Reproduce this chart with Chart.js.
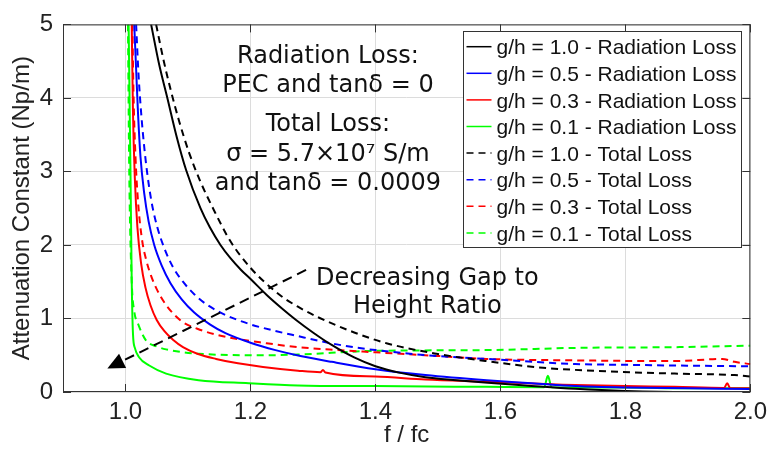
<!DOCTYPE html>
<html>
<head>
<meta charset="utf-8">
<script src="https://cdn.jsdelivr.net/npm/chart.js@4.4.0/dist/chart.umd.min.js"></script>
<style>
  body { margin: 0; background: #fff; }
  #wrap { width: 773px; height: 450px; }
</style>
</head>
<body>
<div id="wrap"><canvas id="chart" width="773" height="450"></canvas></div>
<script>
// values: f/fc on x, attenuation (Np/m) on y
const rad10X = [1.041, 1.054, 1.067, 1.082, 1.097, 1.120, 1.135, 1.152, 1.168, 1.185, 1.201, 1.226, 1.250, 1.273, 1.300, 1.330, 1.366, 1.400, 1.440, 1.480, 1.530, 1.580, 1.640, 1.720, 1.800, 1.900, 2.000];
const rad10Y = [5.00, 4.45, 4.00, 3.47, 3.02, 2.50, 2.24, 2.00, 1.82, 1.66, 1.53, 1.32, 1.14, 0.98, 0.81, 0.64, 0.47, 0.35, 0.26, 0.20, 0.16, 0.125, 0.09, 0.045, 0.015, 0.00, 0.00];

const rad05X = [1.014, 1.017, 1.020, 1.024, 1.030, 1.037, 1.046, 1.058, 1.072, 1.090, 1.110, 1.135, 1.160, 1.200, 1.240, 1.280, 1.330, 1.400, 1.480, 1.578, 1.650, 1.720, 1.800, 1.900, 2.000];
const rad05Y = [5.00, 4.40, 3.80, 3.20, 2.70, 2.32, 2.00, 1.72, 1.48, 1.26, 1.08, 0.92, 0.80, 0.67, 0.57, 0.49, 0.41, 0.31, 0.23, 0.16, 0.12, 0.08, 0.06, 0.05, 0.04];

const rad03X = [1.010, 1.012, 1.015, 1.019, 1.025, 1.032, 1.040, 1.050, 1.062, 1.076, 1.092, 1.115, 1.145, 1.180, 1.220, 1.276, 1.312, 1.316, 1.320, 1.400, 1.480, 1.578, 1.700, 1.800, 1.879, 1.958, 1.963, 1.968, 2.000];
const rad03Y = [5.00, 3.80, 2.90, 2.25, 1.75, 1.42, 1.18, 0.98, 0.83, 0.71, 0.61, 0.52, 0.45, 0.39, 0.34, 0.29, 0.27, 0.30, 0.265, 0.21, 0.17, 0.14, 0.10, 0.08, 0.07, 0.055, 0.12, 0.05, 0.05];

const rad01X = [1.005, 1.008, 1.010, 1.012, 1.015, 1.022, 1.038, 1.065, 1.117, 1.197, 1.276, 1.400, 1.578, 1.670, 1.676, 1.682, 1.800, 1.900, 2.000];
const rad01Y = [5.00, 3.00, 1.50, 0.79, 0.60, 0.47, 0.36, 0.25, 0.16, 0.12, 0.09, 0.08, 0.07, 0.065, 0.22, 0.065, 0.06, 0.05, 0.05];

const tot10X = [1.049, 1.060, 1.072, 1.086, 1.102, 1.120, 1.140, 1.168, 1.201, 1.247, 1.276, 1.310, 1.366, 1.419, 1.498, 1.578, 1.668, 1.774, 1.879, 1.975, 2.000];
const tot10Y = [5.00, 4.55, 4.12, 3.68, 3.25, 2.86, 2.50, 2.05, 1.68, 1.32, 1.16, 1.01, 0.81, 0.66, 0.52, 0.42, 0.33, 0.28, 0.25, 0.23, 0.21];

const tot05X = [1.017, 1.021, 1.026, 1.033, 1.041, 1.050, 1.062, 1.076, 1.092, 1.110, 1.130, 1.157, 1.200, 1.240, 1.276, 1.313, 1.350, 1.400, 1.498, 1.578, 1.720, 1.800, 1.879, 2.000];
const tot05Y = [5.00, 4.30, 3.70, 3.10, 2.62, 2.27, 1.96, 1.70, 1.50, 1.33, 1.19, 1.06, 0.92, 0.83, 0.76, 0.69, 0.63, 0.57, 0.49, 0.45, 0.38, 0.37, 0.36, 0.35];

const tot03X = [1.011, 1.013, 1.016, 1.020, 1.026, 1.033, 1.041, 1.050, 1.062, 1.076, 1.092, 1.115, 1.145, 1.180, 1.220, 1.276, 1.340, 1.400, 1.500, 1.578, 1.720, 1.879, 1.955, 1.975, 2.000];
const tot03Y = [5.00, 4.00, 3.20, 2.60, 2.10, 1.80, 1.58, 1.40, 1.22, 1.07, 0.95, 0.86, 0.78, 0.72, 0.67, 0.61, 0.57, 0.54, 0.49, 0.45, 0.43, 0.42, 0.45, 0.41, 0.38];

const tot01X = [1.004, 1.006, 1.010, 1.014, 1.020, 1.033, 1.050, 1.065, 1.117, 1.223, 1.276, 1.400, 1.578, 1.720, 1.879, 2.000];
const tot01Y = [5.00, 3.00, 1.50, 1.10, 0.93, 0.70, 0.62, 0.58, 0.52, 0.50, 0.51, 0.56, 0.57, 0.60, 0.61, 0.63];

const xTicks = [1.0, 1.2, 1.4, 1.6, 1.8, 2.0];
const yTicks = [0, 1, 2, 3, 4, 5];

const seriesLabels = [
    'g/h = 1.0 - Radiation Loss', 'g/h = 0.5 - Radiation Loss',
    'g/h = 0.3 - Radiation Loss', 'g/h = 0.1 - Radiation Loss',
    'g/h = 1.0 - Total Loss', 'g/h = 0.5 - Total Loss',
    'g/h = 0.3 - Total Loss', 'g/h = 0.1 - Total Loss',
];
const seriesX = [rad10X, rad05X, rad03X, rad01X, tot10X, tot05X, tot03X, tot01X];
const seriesY = [rad10Y, rad05Y, rad03Y, rad01Y, tot10Y, tot05Y, tot03Y, tot01Y];

const noteLines = ['Radiation Loss:', 'PEC and tan\u03b4 = 0', 'Total Loss:', '\u03c3 = 5.7\u00d710\u2077 S/m', 'and tan\u03b4 = 0.0009'];
const arrowNote = ['Decreasing Gap to', 'Height Ratio'];

const colors = ['#000000', '#0000ff', '#ff0000', '#00ff00'];
const DASH = [7, 5];

const datasets = seriesLabels.map((label, i) => ({
    label: label,
    data: seriesX[i].map((v, j) => ({ x: v, y: seriesY[i][j] })),
    borderColor: colors[i % 4],
    borderWidth: 2,
    borderDash: i >= 4 ? DASH : [],
    pointRadius: 0,
    cubicInterpolationMode: 'monotone',
    fill: false,
}));

// frame, inward ticks, text notes, arrow and legend
const overlay = {
    id: 'overlay',
    afterDatasetsDraw(chart) {
        const { ctx, chartArea: a, scales: { x, y } } = chart;
        ctx.save();

        ctx.strokeStyle = '#333';
        ctx.lineWidth = 1;
        ctx.strokeRect(a.left + 0.5, a.top + 0.5, a.right - a.left - 1, a.bottom - a.top - 1);
        ctx.beginPath();
        xTicks.forEach(v => {
            const px = Math.round(x.getPixelForValue(v)) + 0.5;
            ctx.moveTo(px, a.bottom); ctx.lineTo(px, a.bottom - 8);
            ctx.moveTo(px, a.top); ctx.lineTo(px, a.top + 8);
        });
        yTicks.forEach(v => {
            const py = Math.round(y.getPixelForValue(v)) + 0.5;
            ctx.moveTo(a.left, py); ctx.lineTo(a.left + 8, py);
            ctx.moveTo(a.right, py); ctx.lineTo(a.right - 8, py);
        });
        ctx.stroke();

        // notes
        ctx.fillStyle = '#111';
        ctx.font = '24px "DejaVu Sans"';
        ctx.textAlign = 'center';
        ctx.textBaseline = 'alphabetic';
        const noteX = x.getPixelForValue(1.324);
        const noteBase = [4.48, 4.08, 3.556, 3.146, 2.754];
        noteLines.forEach((t, i) => ctx.fillText(t, noteX, y.getPixelForValue(noteBase[i])));

        const arrX = x.getPixelForValue(1.483);
        ctx.fillText(arrowNote[0], arrX, y.getPixelForValue(1.46));
        ctx.fillText(arrowNote[1], arrX, y.getPixelForValue(1.07));

        // arrow
        const x0 = x.getPixelForValue(1.289), y0 = y.getPixelForValue(1.66);
        const x1 = x.getPixelForValue(0.971), y1 = y.getPixelForValue(0.32);
        const len = Math.hypot(x1 - x0, y1 - y0);
        const ux = (x1 - x0) / len, uy = (y1 - y0) / len;
        const head = 17, half = 8;
        const bx = x1 - ux * head, by = y1 - uy * head;
        ctx.strokeStyle = '#000';
        ctx.lineWidth = 2;
        ctx.setLineDash([10, 6]);
        ctx.beginPath();
        ctx.moveTo(x0, y0); ctx.lineTo(bx, by);
        ctx.stroke();
        ctx.setLineDash([]);
        ctx.fillStyle = '#000';
        ctx.beginPath();
        ctx.moveTo(x1, y1);
        ctx.lineTo(bx - uy * half, by + ux * half);
        ctx.lineTo(bx + uy * half, by - ux * half);
        ctx.closePath();
        ctx.fill();

        // legend
        const lx = 463.5, ly = 31.5, lw = 278, lh = 216;
        ctx.fillStyle = '#fff';
        ctx.fillRect(lx, ly, lw, lh);
        ctx.strokeStyle = '#333';
        ctx.lineWidth = 1;
        ctx.strokeRect(lx, ly, lw, lh);
        ctx.font = '21px "Liberation Sans", Arial';
        ctx.textAlign = 'left';
        chart.data.datasets.forEach((ds, i) => {
            const rowY = 46.7 + i * 26.6;
            ctx.strokeStyle = ds.borderColor;
            ctx.lineWidth = 1.5;
            ctx.setLineDash(ds.borderDash.length ? [7, 5] : []);
            ctx.beginPath();
            ctx.moveTo(lx + 3, rowY); ctx.lineTo(lx + 28, rowY);
            ctx.stroke();
            ctx.setLineDash([]);
            ctx.fillStyle = '#111';
            ctx.fillText(ds.label, lx + 33, 54.3 + i * 26.6);
        });

        ctx.restore();
    }
};

const tickFont = { family: '"Liberation Sans", Arial', size: 24 };

new Chart(document.getElementById('chart').getContext('2d'), {
    type: 'line',
    data: { datasets: datasets },
    options: {
        responsive: false,
        animation: false,
        layout: { padding: { top: 18, right: 17, left: 0, bottom: 0 } },
        plugins: {
            legend: { display: false },
            tooltip: { enabled: false },
        },
        scales: {
            x: {
                type: 'linear',
                min: 0.9,
                max: 2.0,
                afterFit: (s) => { s.height = 58; },
                afterBuildTicks: (s) => { s.ticks = xTicks.map(v => ({ value: v })); },
                ticks: {
                    font: tickFont,
                    color: '#222',
                    padding: 6,
                    maxRotation: 0,
                    callback: (v) => Number(v).toFixed(1),
                },
                grid: { color: '#dcdcdc', drawTicks: false },
                border: { display: false },
                title: { display: true, text: 'f / fc', font: tickFont, color: '#222', padding: 0 },
            },
            y: {
                min: 0,
                max: 5,
                afterFit: (s) => { s.width = 63; },
                afterBuildTicks: (s) => { s.ticks = yTicks.map(v => ({ value: v })); },
                ticks: { font: tickFont, color: '#222', padding: 10 },
                grid: { color: '#dcdcdc', drawTicks: false },
                border: { display: false },
                title: {
                    display: true,
                    text: 'Attenuation Constant (Np/m)',
                    font: tickFont,
                    color: '#222',
                    padding: { top: 8, bottom: 0 },
                },
            },
        },
    },
    plugins: [overlay],
});
</script>
</body>
</html>
